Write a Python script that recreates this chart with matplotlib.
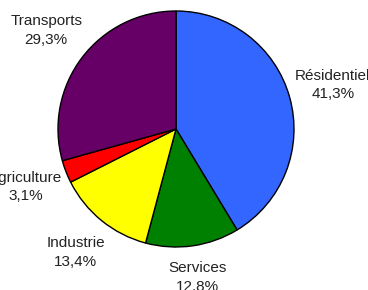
import numpy as np
import matplotlib.pyplot as plt

# consommation d'energie par secteur
secteurs = ["Résidentiel", "Services", "Industrie", "Agriculture", "Transports"]
parts = [41.3, 12.8, 13.4, 3.1, 29.3]
couleurs = ["#3366FF", "#008000", "#FFFF00", "#FF0000", "#660066"]
# distance des etiquettes (en rayons)
dist_etiq = [1.38, 1.27, 1.35, 1.365, 1.38]

labels = [f"{s}\n{str(p).replace('.', ',')}%" for s, p in zip(secteurs, parts)]

plt.rcParams["font.family"] = ["Liberation Sans", "DejaVu Sans"]

fig = plt.figure(figsize=(3.68, 2.90), dpi=100)
ax = fig.add_axes([0, 0, 1, 1])
ax.set_xlim(0, 368)
ax.set_ylim(0, 290)
ax.set_aspect("equal")
ax.axis("off")

centre = (176, 161)
rayon = 118
wedges, _ = ax.pie(parts, colors=couleurs, startangle=90,
                   counterclock=False, center=centre, radius=rayon,
                   wedgeprops=dict(edgecolor="black", linewidth=1.0))

for w, lab, d in zip(wedges, labels, dist_etiq):
    ang = np.deg2rad((w.theta1 + w.theta2) / 2)
    x = centre[0] + d * rayon * np.cos(ang)
    y = centre[1] + d * rayon * np.sin(ang)
    ax.text(x, y, lab, ha="center", va="center", fontsize=11,
            color="#222222", linespacing=1.39, multialignment="center")

ax.set_xlim(0, 368)
ax.set_ylim(0, 290)

fig.savefig("out.png", dpi=100)
